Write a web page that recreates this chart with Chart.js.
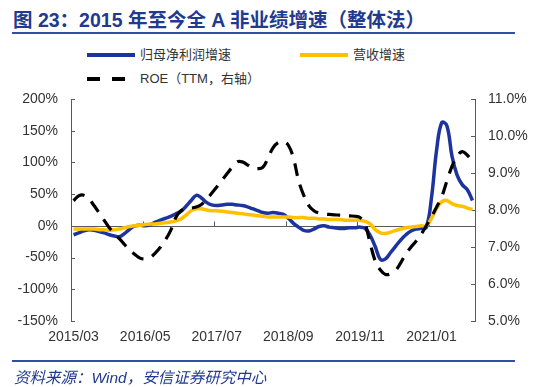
<!DOCTYPE html>
<html>
<head>
<meta charset="utf-8">
<script src="https://cdn.jsdelivr.net/npm/chart.js@4.4.1/dist/chart.umd.min.js"></script>
<style>
  html, body { margin: 0; padding: 0; background: #fff; }
  #wrap { position: relative; width: 550px; height: 387px; overflow: hidden; font-family: "Liberation Sans", Arial, "Noto Sans CJK SC", sans-serif; }
  #chart { position: absolute; left: 0; top: 0; }
  .title { position: absolute; left: 13px; top: 4px; font-size: 19.5px; font-weight: bold; color: #1f3a8f; white-space: nowrap; font-family: "Liberation Sans", "Noto Sans CJK SC", sans-serif; }
  .rule { position: absolute; left: 12px; width: 503px; height: 1.5px; background: #2f4fa3; }
  .lg-line { position: absolute; height: 4px; }
  .lg-text { position: absolute; font-size: 13px; color: #333; white-space: nowrap; line-height: 16px; }
  .source { position: absolute; left: 14px; top: 365px; font-size: 15.5px; font-style: italic; color: #1f3a8f; white-space: nowrap; }
</style>
</head>
<body>
<div id="wrap">
  <div class="title">图 23：2015 年至今全 A 非业绩增速（整体法）</div>
  <div class="rule" style="top:32px"></div>

  <div class="lg-line" style="left:87px;top:53px;width:48px;background:#1d339e"></div>
  <div class="lg-text" style="left:140px;top:47px">归母净利润增速</div>
  <div class="lg-line" style="left:300px;top:53px;width:48px;background:#ffc000"></div>
  <div class="lg-text" style="left:353px;top:47px">营收增速</div>
  <div class="lg-line" style="left:87px;top:77px;width:13px;background:#000"></div>
  <div class="lg-line" style="left:112px;top:77px;width:13px;background:#000"></div>
  <div class="lg-text" style="left:140px;top:71px">ROE（TTM，右轴）</div>

  <canvas id="chart" width="550" height="387"></canvas>

  <div class="rule" style="top:360px"></div>
  <div class="source">资料来源：Wind，安信证券研究中心</div>
</div>

<script>
const months = [
    '2015/03','2015/04','2015/05','2015/06','2015/07','2015/08','2015/09','2015/10','2015/11','2015/12',
    '2016/01','2016/02','2016/03','2016/04','2016/05','2016/06','2016/07','2016/08','2016/09','2016/10','2016/11','2016/12',
    '2017/01','2017/02','2017/03','2017/04','2017/05','2017/06','2017/07','2017/08','2017/09','2017/10','2017/11','2017/12',
    '2018/01','2018/02','2018/03','2018/04','2018/05','2018/06','2018/07','2018/08','2018/09','2018/10','2018/11','2018/12',
    '2019/01','2019/02','2019/03','2019/04','2019/05','2019/06','2019/07','2019/08','2019/09','2019/10','2019/11','2019/12',
    '2020/01','2020/02','2020/03','2020/04','2020/05','2020/06','2020/07','2020/08','2020/09','2020/10','2020/11','2020/12',
    '2021/01','2021/02','2021/03','2021/04','2021/05','2021/06','2021/07','2021/08','2021/09'
];

// 归母净利润增速 (%)
const profitGrowth = [
    -14, -11, -8, -6, -7, -9, -11, -14, -16, -17,
    -12, -5, 0, 1, 0, 2, 6, 9, 12, 15, 19, 23,
    31, 40, 48, 44, 37, 33, 32, 33, 34, 34, 33, 32,
    30, 27, 24, 21, 20, 21, 20, 18, 12, 4, -2, -7,
    -8, -5, -1, 0, -2, -3, -4, -4, -3, -3, -2, -4,
    -15, -33, -53, -52, -42, -32, -22, -14, -8, -5, -4, -2,
    45, 120, 163, 158, 110, 80, 65, 57, 40
];

// 营收增速 (%)
const revenueGrowth = [
    -5, -5, -5, -5, -5, -6, -6, -7, -6, -5,
    -3, -1, 0, 1, 2, 3, 3, 4, 5, 6, 8, 11,
    17, 24, 27, 27, 25, 24, 24, 23, 22, 21, 20, 19,
    18, 17, 16, 15, 14, 14, 14, 14, 14, 13, 13, 13,
    12, 12, 11, 11, 10, 10, 10, 9, 9, 9, 9, 7,
    3, -6, -11, -12, -10, -7, -5, -3, -2, -1, 0, 0,
    12, 28, 38, 40, 35, 32, 31, 28, 26
];

// ROE (TTM, %), right axis
const roeTTM = [
    8.25, 8.38, 8.40, 8.30, 8.12, 7.92, 7.72, 7.52, 7.36, 7.22,
    7.06, 6.92, 6.80, 6.70, 6.68, 6.72, 6.84, 7.00, 7.20, 7.45, 7.80, 7.98,
    8.04, 8.05, 8.08, 8.15, 8.28, 8.45, 8.62, 8.80, 8.98, 9.15, 9.30, 9.30,
    9.22, 9.14, 9.12, 9.15, 9.40, 9.68, 9.82, 9.85, 9.75, 9.40, 8.80, 8.40,
    8.12, 7.98, 7.92, 7.89, 7.88, 7.87, 7.86, 7.85, 7.84, 7.83, 7.80, 7.62,
    7.10, 6.62, 6.38, 6.26, 6.28, 6.37, 6.58, 6.82, 7.00, 7.16, 7.35, 7.58,
    7.82, 8.08, 8.36, 8.78, 9.18, 9.45, 9.58, 9.48, 9.32
];

const leftTicks = { min: -150, max: 200, step: 50 };
const rightTicks = { min: 5, max: 11, step: 1 };
const labelEvery = 14;

const AXIS = '#595959';

// zero line, inward tick marks on both y axes, x tick marks on the zero line
const axisDecor = {
    id: 'axisDecor',
    beforeDatasetsDraw(chart) {
        const { ctx, chartArea: a, scales } = chart;
        const y0 = Math.round(scales.y.getPixelForValue(0)) + 0.5;
        ctx.save();
        ctx.strokeStyle = AXIS;
        ctx.lineWidth = 1;
        ctx.beginPath();
        ctx.moveTo(a.left, y0);
        ctx.lineTo(a.right, y0);
        scales.y.ticks.forEach(t => {
            const p = Math.round(scales.y.getPixelForValue(t.value)) + 0.5;
            ctx.moveTo(a.left, p);
            ctx.lineTo(a.left + 4, p);
        });
        scales.y1.ticks.forEach(t => {
            const p = Math.round(scales.y1.getPixelForValue(t.value)) + 0.5;
            ctx.moveTo(a.right, p);
            ctx.lineTo(a.right - 4, p);
        });
        const xs = scales.x;
        const w = (xs.getPixelForValue(1) - xs.getPixelForValue(0));
        for (let i = labelEvery; i < months.length; i += labelEvery) {
            const px = Math.round(xs.getPixelForValue(i) - w / 2) + 0.5;
            ctx.moveTo(px, y0);
            ctx.lineTo(px, y0 - 5);
        }
        ctx.stroke();
        ctx.restore();
    }
};

const tickFont = { family: "'Liberation Sans', Arial, sans-serif", size: 14 };

new Chart(document.getElementById('chart'), {
    type: 'line',
    data: {
        labels: months,
        datasets: [
            {
                label: '归母净利润增速',
                data: profitGrowth,
                yAxisID: 'y',
                borderColor: '#1d339e',
                borderWidth: 3.5,
                pointRadius: 0,
                tension: 0.4,
                order: 3
            },
            {
                label: '营收增速',
                data: revenueGrowth,
                yAxisID: 'y',
                borderColor: '#ffc000',
                borderWidth: 3.5,
                pointRadius: 0,
                tension: 0.4,
                order: 2
            },
            {
                label: 'ROE（TTM，右轴）',
                data: roeTTM,
                yAxisID: 'y1',
                borderColor: '#000000',
                borderWidth: 3.2,
                borderDash: [13, 9],
                pointRadius: 0,
                tension: 0.4,
                order: 1
            }
        ]
    },
    options: {
        responsive: false,
        animation: false,
        layout: { padding: { top: 99, left: 0, right: 0, bottom: 0 } },
        plugins: { legend: { display: false }, tooltip: { enabled: false } },
        scales: {
            x: {
                offset: true,
                grid: { display: false, drawTicks: false },
                border: { display: false },
                ticks: {
                    autoSkip: false, maxRotation: 0, padding: 8,
                    color: '#333', font: tickFont,
                    callback(v, i) { return i % labelEvery === 0 ? months[i] : ''; }
                },
                afterFit(s) { s.height = 66; }
            },
            y: {
                position: 'left',
                min: leftTicks.min, max: leftTicks.max,
                grid: { display: false, drawTicks: false },
                border: { display: true, color: AXIS, width: 1 },
                ticks: {
                    stepSize: leftTicks.step, padding: 13,
                    color: '#333', font: tickFont,
                    callback: v => v + '%'
                },
                afterFit(s) { s.width = 71; }
            },
            y1: {
                position: 'right',
                min: rightTicks.min, max: rightTicks.max,
                grid: { display: false, drawTicks: false },
                border: { display: true, color: AXIS, width: 1 },
                ticks: {
                    stepSize: rightTicks.step, padding: 13,
                    color: '#333', font: tickFont,
                    callback: v => v.toFixed(1) + '%'
                },
                afterFit(s) { s.width = 75; }
            }
        }
    },
    plugins: [axisDecor]
});
</script>
</body>
</html>
